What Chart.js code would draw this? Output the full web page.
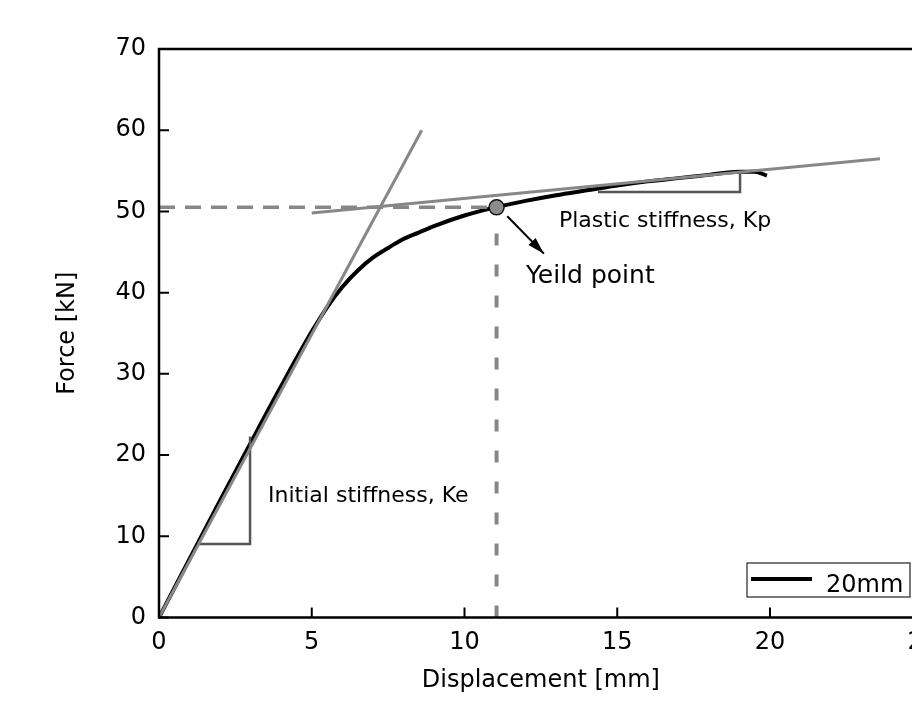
<!DOCTYPE html>
<html><head><meta charset="utf-8">
<script src="https://cdn.jsdelivr.net/npm/chart.js@4.4.0/dist/chart.umd.min.js"></script>
<style>html,body{margin:0;padding:0;background:#fff;overflow:hidden;width:912px;height:709px}
#wrap{width:949px;height:709px;position:relative}</style>
</head><body><div id="wrap"><canvas id="c" width="949" height="709"></canvas></div>
<script>
// ---- data ----
const xTicks = [0, 5, 10, 15, 20, 25];
const yTicks = [0, 10, 20, 30, 40, 50, 60, 70];
const seriesName = '20mm';
const dispX  = [0, 1, 2, 3, 4, 5, 5.5, 6, 6.5, 7, 7.5, 8, 8.5, 9, 10, 11, 12, 13, 14, 15, 16, 17, 18, 19, 19.5, 19.9];
const forceY = [0, 7.2, 14.4, 21.5, 28.5, 35.2, 38.2, 40.7, 42.7, 44.3, 45.5, 46.6, 47.4, 48.2, 49.5, 50.5, 51.3, 52.0, 52.6, 53.2, 53.7, 54.1, 54.5, 54.9, 54.9, 54.4];
const keLineX = [0, 8.6],   keLineY = [0, 60];
const kpLineX = [5, 23.6],  kpLineY = [49.8, 56.5];
const yieldX = [11.05],     yieldY = [50.5];
const yieldHX = [0, 11.05], yieldHY = [50.5, 50.5];
const yieldVX = [11.05, 11.05], yieldVY = [0, 50.5];
const keTriX = [1.3, 2.98, 2.98],    keTriY = [9.05, 9.05, 22.3];
const kpTriX = [14.37, 19.02, 19.02], kpTriY = [52.4, 52.4, 55.0];
const arrowX = [11.4, 12.6], arrowY = [49.4, 44.8];
const noteTexts = ['Initial stiffness, Ke', 'Plastic stiffness, Kp', 'Yeild point'];
const xTitle = 'Displacement [mm]', yTitle = 'Force [kN]';

// ---- helpers / styles ----
const pts = (xs, ys) => xs.map((x, i) => ({x, y: ys[i]}));
const FONT = 'DejaVu Sans';
const GRAY = '#878787', DARK = '#555555';
const lineDs = (data, color, width, order, extra) => Object.assign({
  data, showLine: true, borderColor: color, borderWidth: width, pointRadius: 0,
  fill: false, order, tension: 0
}, extra || {});

const notePos = [
  {x: 3.57, y: 14.22, size: 22},
  {x: 13.09, y: 48.1, size: 22},
  {x: 12.01, y: 41.2, size: 25}
];

const overlay = {
  id: 'overlay',
  afterDraw(chart) {
    const {ctx, chartArea: a, scales: {x, y}} = chart;
    ctx.save();
    // frame
    ctx.strokeStyle = '#000'; ctx.lineWidth = 2.5; ctx.lineCap = 'butt';
    ctx.beginPath();
    ctx.moveTo(a.left, a.top); ctx.lineTo(chart.width, a.top);
    ctx.moveTo(a.left, a.top - 1.25); ctx.lineTo(a.left, a.bottom);
    ctx.moveTo(a.left - 1.25, a.bottom); ctx.lineTo(chart.width, a.bottom);
    ctx.moveTo(a.right, a.top); ctx.lineTo(a.right, a.bottom);
    ctx.stroke();
    // inward ticks
    ctx.lineWidth = 2;
    ctx.beginPath();
    yTicks.forEach(v => { const py = y.getPixelForValue(v); ctx.moveTo(a.left, py); ctx.lineTo(a.left + 10, py); });
    xTicks.forEach(v => { const px = x.getPixelForValue(v); ctx.moveTo(px, a.bottom); ctx.lineTo(px, a.bottom - 10); });
    ctx.stroke();
    // arrow head
    const x0 = x.getPixelForValue(arrowX[0]), y0 = y.getPixelForValue(arrowY[0]);
    const x1 = x.getPixelForValue(arrowX[1]), y1 = y.getPixelForValue(arrowY[1]);
    const ang = Math.atan2(y1 - y0, x1 - x0), L = 17, W = 5;
    ctx.fillStyle = '#000';
    ctx.beginPath();
    ctx.moveTo(x1, y1);
    ctx.lineTo(x1 - L * Math.cos(ang) + W * Math.sin(ang), y1 - L * Math.sin(ang) - W * Math.cos(ang));
    ctx.lineTo(x1 - L * Math.cos(ang) - W * Math.sin(ang), y1 - L * Math.sin(ang) + W * Math.cos(ang));
    ctx.closePath(); ctx.fill();
    // annotation texts
    ctx.fillStyle = '#000'; ctx.textAlign = 'left'; ctx.textBaseline = 'alphabetic';
    noteTexts.forEach((t, i) => {
      const p = notePos[i];
      ctx.font = p.size + 'px "' + FONT + '"';
      ctx.fillText(t, x.getPixelForValue(p.x), y.getPixelForValue(p.y));
    });
    // legend
    const bx = a.left + 588, by = a.bottom - 54.5, bw = 163, bh = 34;
    ctx.fillStyle = '#fff'; ctx.fillRect(bx, by, bw, bh);
    ctx.strokeStyle = '#222'; ctx.lineWidth = 1.2; ctx.strokeRect(bx, by, bw, bh);
    const ds = chart.data.datasets[0];
    ctx.strokeStyle = ds.borderColor; ctx.lineWidth = ds.borderWidth;
    ctx.beginPath(); ctx.moveTo(bx + 4, by + 16); ctx.lineTo(bx + 65, by + 16); ctx.stroke();
    ctx.fillStyle = '#000'; ctx.font = '24px "' + FONT + '"';
    ctx.fillText(ds.label, bx + 79, by + 28.5);
    ctx.restore();
  }
};

new Chart(document.getElementById('c'), {
  type: 'scatter',
  data: {
    datasets: [
      lineDs(pts(dispX, forceY), '#000', 4, 6, {label: seriesName, cubicInterpolationMode: 'monotone'}),
      lineDs(pts(keLineX, keLineY), GRAY, 3, 3, {label: 'Ke line'}),
      lineDs(pts(kpLineX, kpLineY), GRAY, 3, 3, {label: 'Kp line'}),
      lineDs(pts(yieldHX, yieldHY), GRAY, 3.5, 5, {label: 'yield H', borderDash: [16, 10]}),
      lineDs(pts(yieldVX, yieldVY), GRAY, 4, 5, {label: 'yield V', borderDash: [12, 19]}),
      lineDs(pts(keTriX, keTriY), DARK, 2.5, 4, {label: 'Ke tri'}),
      lineDs(pts(kpTriX, kpTriY), DARK, 2.5, 4, {label: 'Kp tri'}),
      lineDs(pts(arrowX, arrowY), '#000', 2, 1, {label: 'arrow'}),
      {label: 'Yield point', data: pts(yieldX, yieldY), pointRadius: 7.5, pointBackgroundColor: '#8c8c8c',
       pointBorderColor: '#111', pointBorderWidth: 1.5, showLine: false, order: 0}
    ]
  },
  options: {
    responsive: false, animation: false, devicePixelRatio: 1,
    layout: {padding: {top: 49, right: 17, bottom: 0, left: 0}},
    plugins: {legend: {display: false}, tooltip: {enabled: false}},
    scales: {
      x: {
        type: 'linear', min: 0, max: 25,
        afterBuildTicks: s => { s.ticks = xTicks.map(v => ({value: v})); },
        afterFit: s => { s.height = 91.5; },
        grid: {display: false, drawTicks: false}, border: {display: false},
        ticks: {color: '#000', font: {family: FONT, size: 24}, padding: 11, maxRotation: 0, autoSkip: false},
        title: {display: true, text: xTitle, color: '#000', font: {family: FONT, size: 24}, padding: {top: 0, bottom: 14}}
      },
      y: {
        type: 'linear', min: 0, max: 70,
        afterBuildTicks: s => { s.ticks = yTicks.map(v => ({value: v})); },
        afterFit: s => { s.width = 159; },
        grid: {display: false, drawTicks: false}, border: {display: false},
        ticks: {color: '#000', font: {family: FONT, size: 24}, padding: 13, autoSkip: false},
        title: {display: true, text: yTitle, color: '#000', font: {family: FONT, size: 24}, padding: {top: 53, bottom: 0}}
      }
    }
  },
  plugins: [overlay]
});
</script></body></html>
